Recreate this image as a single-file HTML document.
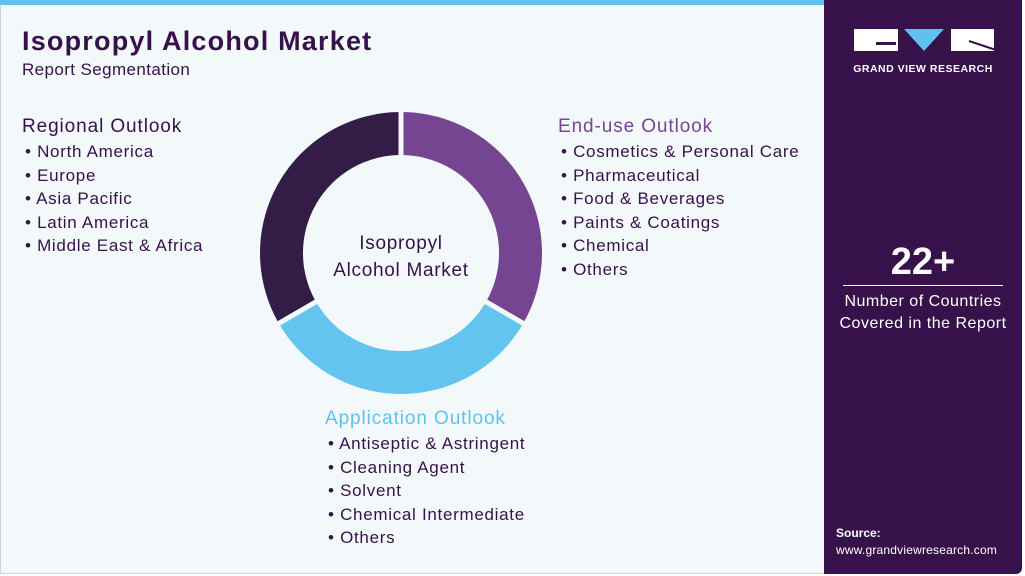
<!DOCTYPE html>
<html><head><style>
body{margin:0;width:1025px;height:576px;background:#fff;position:relative;overflow:hidden;font-family:"Liberation Sans",sans-serif}
.main{position:absolute;left:0;top:0;width:824px;height:574px;background:#f3f8fb;border:1px solid #cfd3d8;border-right:none;box-sizing:border-box}
.bar{position:absolute;left:0;top:0;width:824px;height:5px;background:#5fc2ee}
.side{position:absolute;left:824px;top:0;width:198px;height:574px;background:#37124a;border-radius:0 0 6px 0}
.t{position:absolute;white-space:nowrap}
h1{position:absolute;left:22px;top:26px;margin:0;font-size:27px;font-weight:bold;color:#37124a;letter-spacing:1.2px}
.sub{left:22px;top:60px;font-size:17px;color:#37124a;letter-spacing:0.4px}
.hd{font-size:19px;letter-spacing:0.9px}
.li{font-size:17px;color:#37124a;line-height:23.6px;letter-spacing:0.7px}
</style></head><body>
<div class="main"></div><div class="bar"></div>
<h1>Isopropyl Alcohol Market</h1>
<div class="t sub">Report Segmentation</div>
<div class="t hd" style="left:22px;top:116px;color:#37124a">Regional Outlook</div>
<div class="t li" style="left:25px;top:140px">• North America<br>• Europe<br>• Asia Pacific<br>• Latin America<br>• Middle East &amp; Africa</div>
<div class="t hd" style="left:558px;top:116px;color:#7a4593">End-use Outlook</div>
<div class="t li" style="left:561px;top:140px">• Cosmetics &amp; Personal Care<br>• Pharmaceutical<br>• Food &amp; Beverages<br>• Paints &amp; Coatings<br>• Chemical<br>• Others</div>
<div class="t hd" style="left:325px;top:408px;color:#5fc2ee">Application Outlook</div>
<div class="t li" style="left:328px;top:432px">• Antiseptic &amp; Astringent<br>• Cleaning Agent<br>• Solvent<br>• Chemical Intermediate<br>• Others</div>
<svg style="position:absolute;left:0;top:0" width="824" height="576">
<path d="M401,112 A141,141 0 0 1 523.1,323.5 L485.9,302 A98,98 0 0 0 401,155 Z" fill="#764592"/>
<path d="M523.1,323.5 A141,141 0 0 1 278.9,323.5 L316.1,302 A98,98 0 0 0 485.9,302 Z" fill="#62c4ef"/>
<path d="M278.9,323.5 A141,141 0 0 1 401,112 L401,155 A98,98 0 0 0 316.1,302 Z" fill="#331d47"/>
<g stroke="#f3f8fb" stroke-width="5"><line x1="401" y1="108" x2="401" y2="158"/><line x1="526" y1="325" x2="483" y2="300"/><line x1="276" y1="325" x2="319" y2="300"/></g>
<text x="401" y="249" text-anchor="middle" font-size="19" fill="#37124a" font-family="Liberation Sans" letter-spacing="0.7">Isopropyl</text>
<text x="401" y="276" text-anchor="middle" font-size="19" fill="#37124a" font-family="Liberation Sans" letter-spacing="0.7">Alcohol Market</text>
</svg>
<div class="side"></div>
<svg style="position:absolute;left:824px;top:0" width="198" height="90">
<rect x="30" y="29" width="44" height="22" fill="#fff"/><rect x="52" y="42" width="20" height="3" fill="#37124a"/>
<polygon points="80,29 120,29 100,51" fill="#5fc2ee"/>
<rect x="127" y="29" width="43" height="22" fill="#fff"/><line x1="145" y1="41" x2="172" y2="50" stroke="#37124a" stroke-width="2"/>
<text x="99" y="72" text-anchor="middle" font-size="10.5" font-weight="bold" fill="#fff" font-family="Liberation Sans" letter-spacing="0.5">GRAND VIEW RESEARCH</text>
</svg>
<div class="t" style="left:824px;width:198px;text-align:center;top:241px;font-size:38px;font-weight:bold;color:#fff">22+</div>
<div style="position:absolute;left:843px;top:285px;width:160px;height:1px;background:#fff"></div>
<div class="t" style="left:824px;width:198px;text-align:center;top:291px;font-size:16px;color:#fff;line-height:22px;letter-spacing:0.5px">Number of Countries<br>Covered in the Report</div>
<div class="t" style="left:836px;top:526px;font-size:12px;font-weight:bold;color:#fff">Source:</div>
<div class="t" style="left:836px;top:543px;font-size:12px;color:#fff;letter-spacing:0.2px">www.grandviewresearch.com</div>
</body></html>
